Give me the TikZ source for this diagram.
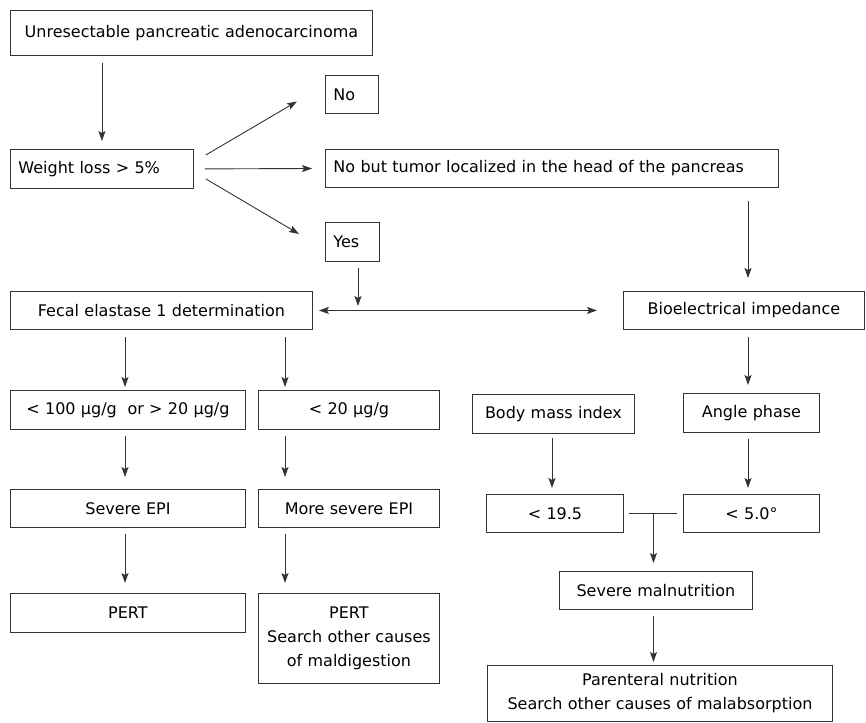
\documentclass[tikz,border=0pt]{standalone}
\usepackage{fontspec}
\setmainfont{DejaVu Sans}
\usetikzlibrary{arrows.meta, calc}
\tikzset{
  boxnode/.style  = {draw=black!80, line width=0.9pt, anchor=north west,
                     inner ysep=0pt, inner xsep=8pt, align=center,
                     font=\fontsize{16}{24}\selectfont},
  flow/.style     = {-{Stealth[length=10pt, width=7pt, inset=2pt]},
                     line width=0.9pt, draw=black!80,
                     shorten <=7pt, shorten >=8pt},
  twoway/.style   = {{Stealth[length=10pt, width=7pt, inset=2pt]}-{Stealth[length=10pt, width=7pt, inset=2pt]},
                     line width=0.9pt, draw=black!80},
  joint/.style    = {line width=0.9pt, draw=black!80},
}

\begin{document}
\begin{tikzpicture}[x=1pt, y=-1pt]
    \useasboundingbox (0,0) rectangle (866,722);

    \node[boxnode, minimum width=362pt, minimum height=45pt, text width=346pt] (tumour) at (10,10) {Unresectable pancreatic adenocarcinoma};
    \node[boxnode, minimum width=183pt, minimum height=39pt, text width=167pt, align=left] (weight) at (10,149) {Weight loss > 5\%};
    \node[boxnode, minimum width=53pt, minimum height=38pt, text width=37pt, align=left] (no) at (325,75) {No};
    \node[boxnode, minimum width=453pt, minimum height=38pt, text width=437pt, align=left] (headonly) at (325,149) {No but tumor localized in the head of the pancreas};
    \node[boxnode, minimum width=54pt, minimum height=39pt, text width=38pt, align=left] (yes) at (325,222) {Yes};

    \node[boxnode, minimum width=302pt, minimum height=38pt, text width=286pt] (elastase) at (10,291) {Fecal elastase 1 determination};
    \node[boxnode, minimum width=241pt, minimum height=38pt, text width=225pt] (bia) at (623,291) {Bioelectrical impedance};

    \node[boxnode, minimum width=235pt, minimum height=39pt, text width=219pt] (low) at (10,390) {< 100 µg/g \ or > 20 µg/g};
    \node[boxnode, minimum width=181pt, minimum height=39pt, text width=165pt] (verylow) at (258,390) {< 20 µg/g};
    \node[boxnode, minimum width=235pt, minimum height=38pt, text width=219pt] (epi) at (10,489) {Severe EPI};
    \node[boxnode, minimum width=181pt, minimum height=38pt, text width=165pt] (moreepi) at (258,489) {More severe EPI};
    \node[boxnode, minimum width=235pt, minimum height=39pt, text width=219pt] (pert) at (10,593) {PERT};
    \node[boxnode, minimum width=181pt, minimum height=90pt, text width=165pt] (pertsearch) at (258,593) {PERT\\Search other causes\\of maldigestion};

    \node[boxnode, minimum width=162pt, minimum height=39pt, text width=146pt] (bmi) at (472,394) {Body mass index};
    \node[boxnode, minimum width=136pt, minimum height=39pt, text width=120pt] (phase) at (683,393) {Angle phase};
    \node[boxnode, minimum width=137pt, minimum height=38pt, text width=121pt] (bmilow) at (486,494) {< 19.5};
    \node[boxnode, minimum width=136pt, minimum height=38pt, text width=120pt] (phaselow) at (683,494) {< 5.0°};
    \node[boxnode, minimum width=193pt, minimum height=38pt, text width=177pt] (malnut) at (559,571) {Severe malnutrition};
    \node[boxnode, minimum width=345pt, minimum height=56pt, text width=329pt] (parent) at (487,665) {Parenteral nutrition\\Search other causes of malabsorption};

    % arrow columns
    \coordinate (colA) at (125,0);
    \coordinate (colB) at (285,0);
    \coordinate (colC) at (748,0);
    \coordinate (colD) at (552,0);
    \coordinate (split) at (358,311);
    \coordinate (join) at ($(bmilow.east)!0.5!(phaselow.west)$);

    \draw[flow] (tumour.south -| weight.north) -- (weight.north);
    \draw[flow, shorten <=0pt, shorten >=0pt] ($(weight.east)+(12,-14)$) -- ($(no.west)+(-28,7)$);
    \draw[flow, shorten <=11pt, shorten >=13pt] (weight.east) -- (headonly.west);
    \draw[flow, shorten <=0pt, shorten >=0pt] ($(weight.east)+(12,10)$) -- ($(yes.west)+(-26,-8)$);
    \draw[flow, shorten <=6pt, shorten >=5pt] (yes.south -| split) -- (split);
    \draw[twoway, shorten <=6pt, shorten >=26pt] (elastase.east) -- (bia.west);
    \draw[flow, shorten <=13pt, shorten >=13pt] (headonly.south -| colC) -- (bia.north -| colC);

    \draw[flow, shorten >=3pt] (elastase.south -| colA) -- (low.north -| colA);
    \draw[flow, shorten >=3pt] (elastase.south -| colB) -- (verylow.north -| colB);
    \draw[flow, shorten <=6pt, shorten >=12pt] (low.south -| colA) -- (epi.north -| colA);
    \draw[flow, shorten <=6pt, shorten >=12pt] (verylow.south -| colB) -- (moreepi.north -| colB);
    \draw[flow, shorten <=6pt, shorten >=10pt] (epi.south -| colA) -- (pert.north -| colA);
    \draw[flow, shorten <=6pt, shorten >=10pt] (moreepi.south -| colB) -- (pertsearch.north -| colB);

    \draw[flow] (bia.south -| colC) -- (phase.north -| colC);
    \draw[flow, shorten <=4pt, shorten >=6pt] (bmi.south -| colD) -- (bmilow.north -| colD);
    \draw[flow, shorten <=6pt, shorten >=6pt] (phase.south -| colC) -- (phaselow.north -| colC);
    \draw[joint, shorten <=5pt, shorten >=6pt] (bmilow.east) -- (phaselow.west);
    \draw[flow, shorten <=0pt] (join) -- (malnut.north -| join);
    \draw[flow, shorten <=6pt, shorten >=3pt] (malnut.south -| join) -- (parent.north -| join);
  \end{tikzpicture}
\end{document}
